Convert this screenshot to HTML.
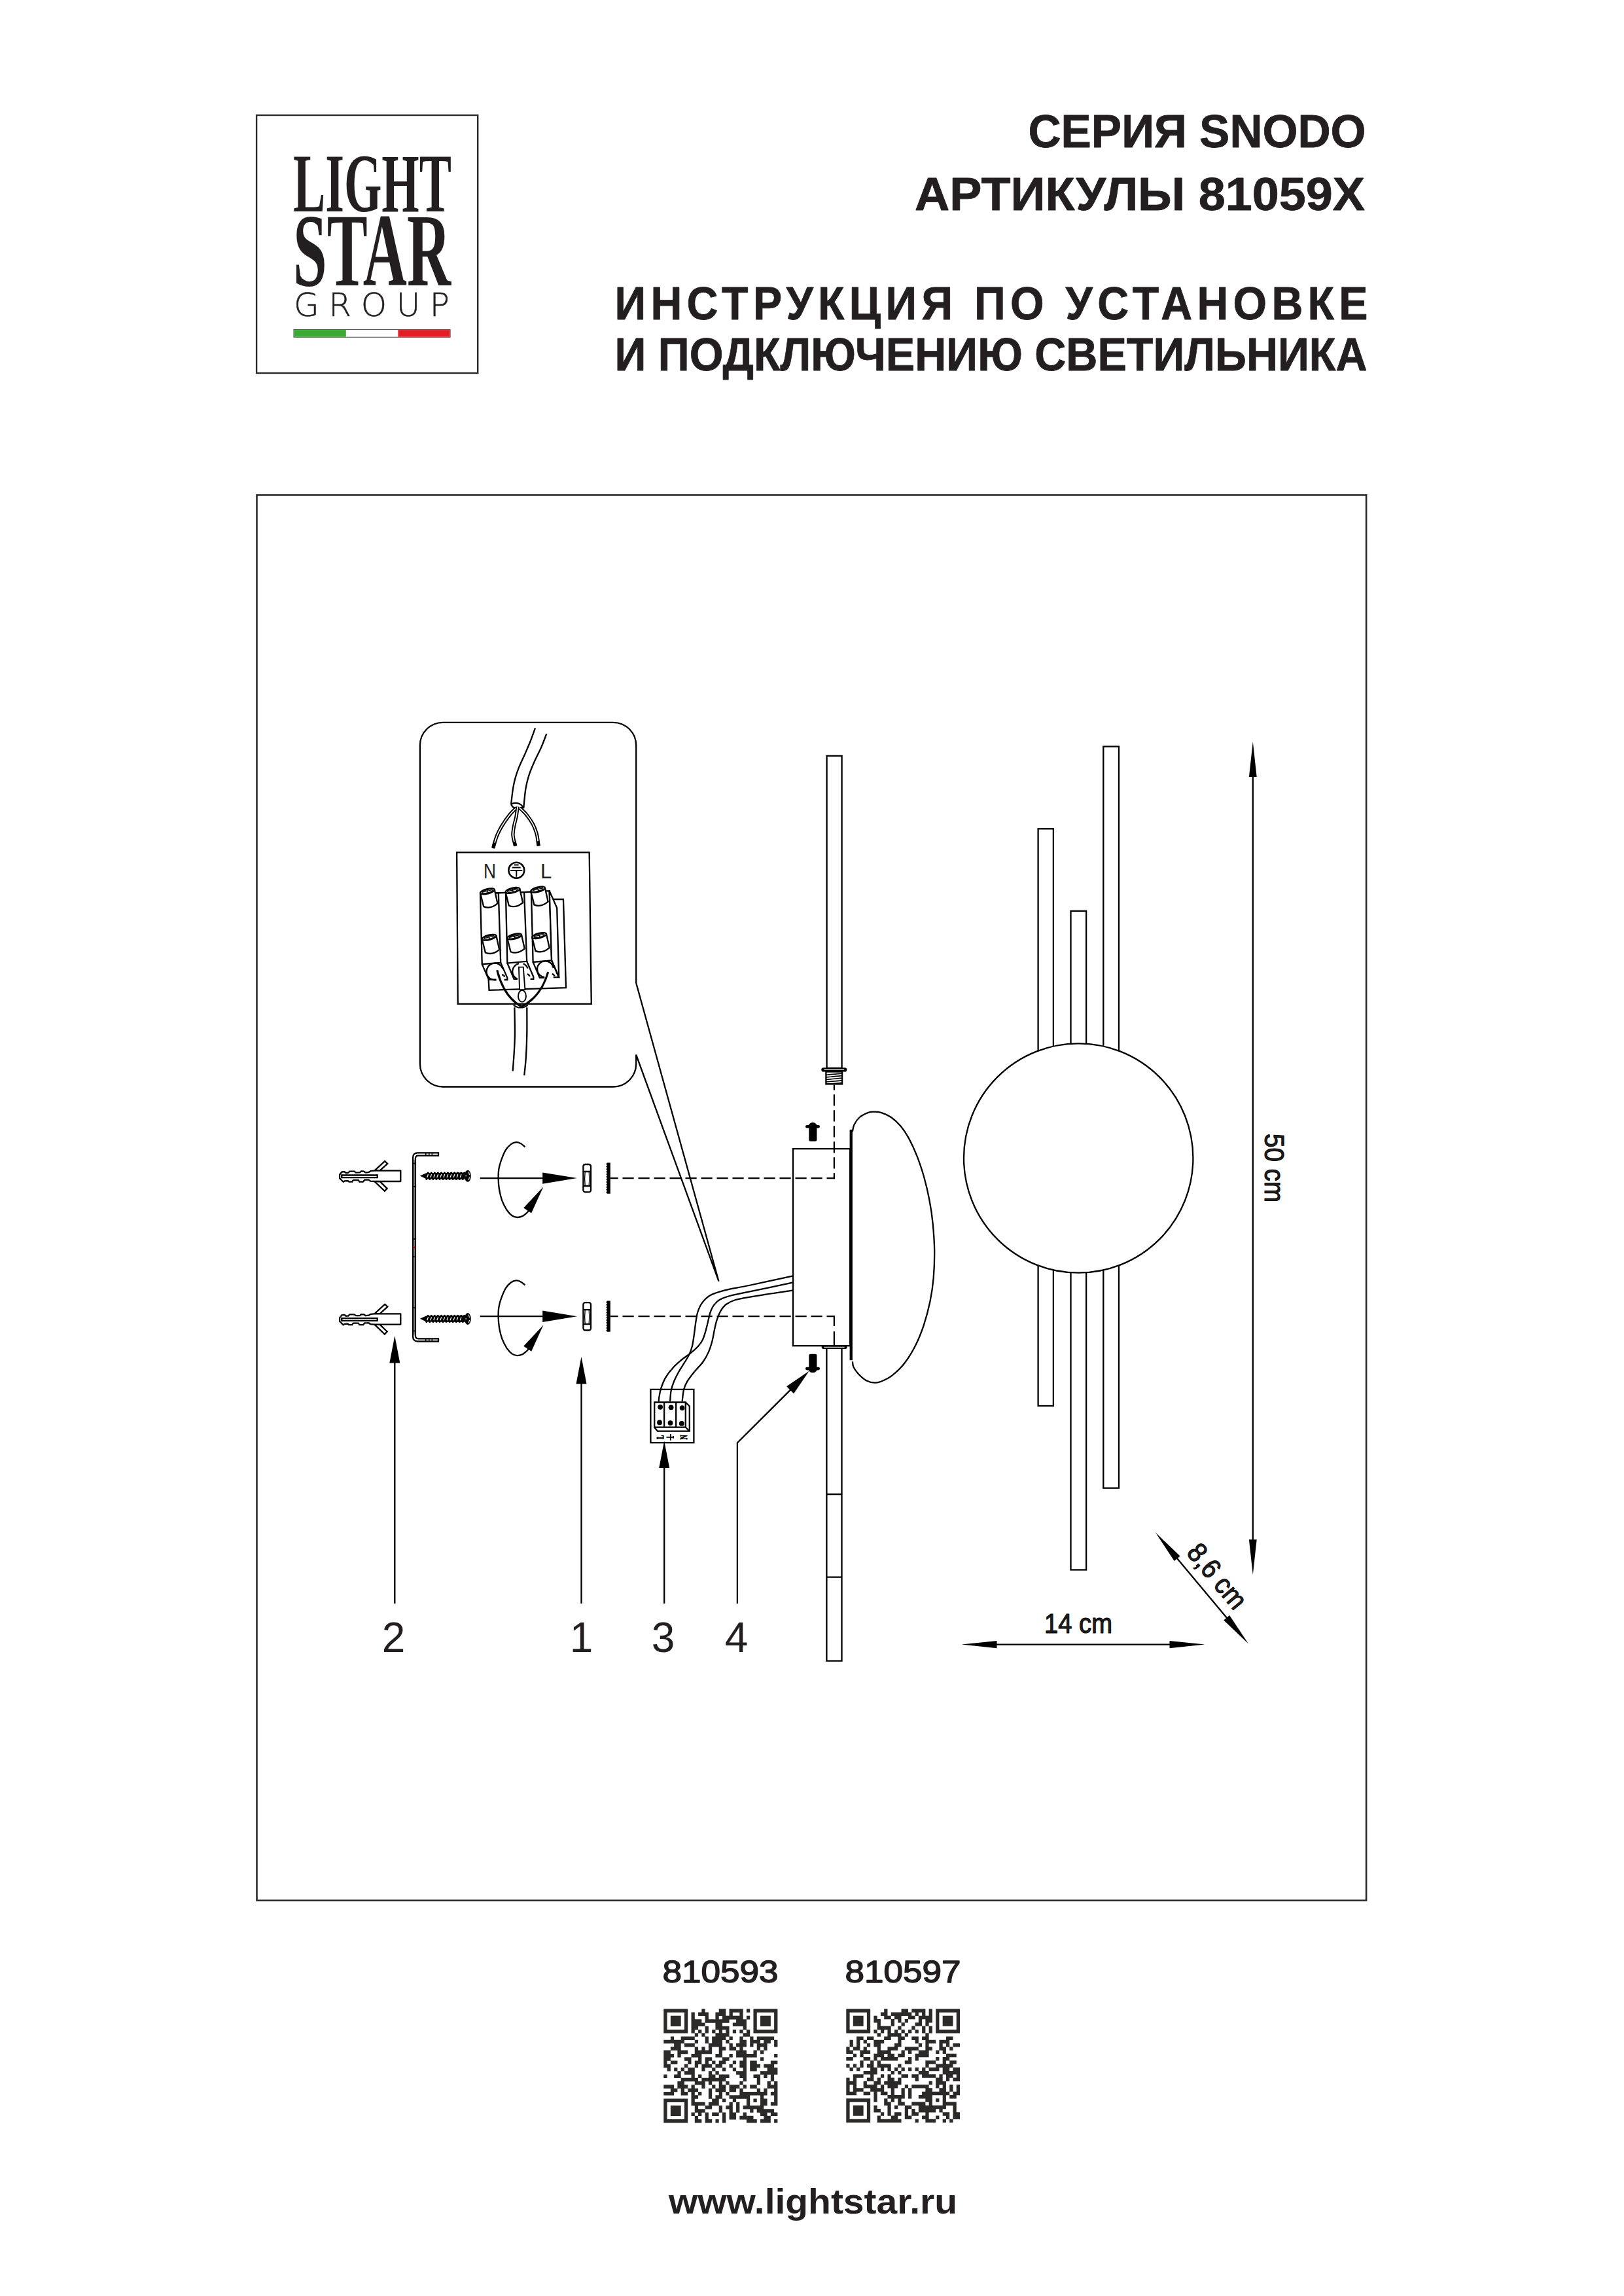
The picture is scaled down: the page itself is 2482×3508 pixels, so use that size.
<!DOCTYPE html>
<html lang="ru"><head><meta charset="utf-8"><title>Lightstar SNODO 81059X</title>
<style>
html,body{margin:0;padding:0;background:#fff}
svg{display:block}
text{font-family:"Liberation Sans",sans-serif;fill:#231f20}
.l{fill:none;stroke:#000;stroke-width:2.3}
.lw{fill:#fff;stroke:#000;stroke-width:2.3}
.k{fill:#000;stroke:none}
.hd{font-weight:bold;fill:#231f20;stroke:#231f20;stroke-width:.8px;stroke-linejoin:round}
.serif{font-family:"Liberation Serif",serif;font-weight:bold;fill:#231f20}
</style></head><body>
<svg width="2482" height="3508" viewBox="0 0 2482 3508">
<rect width="2482" height="3508" fill="#fff"/>
<rect x="392.5" y="756.4" width="1695.6" height="2147.3" fill="none" stroke="#2b2b2b" stroke-width="2.6"/>
<g id="logo">
<rect x="392.1" y="176" width="338.1" height="394" fill="none" stroke="#2b2b2b" stroke-width="2.4"/>
<text class="serif" x="448" y="323.4" font-size="127" textLength="242" lengthAdjust="spacingAndGlyphs">LIGHT</text>
<text class="serif" x="448" y="435.5" font-size="158" textLength="241" lengthAdjust="spacingAndGlyphs">STAR</text>
<text x="449" y="482.9" font-size="50" style="font-family:'DejaVu Sans Light','DejaVu Sans','Liberation Sans',sans-serif;font-weight:200" stroke="#231f20" stroke-width="0.5" textLength="238" lengthAdjust="spacing">GROUP</text>
<rect x="449" y="503.6" width="239.1" height="11.6" fill="#fff" stroke="#444" stroke-width="1"/>
<rect x="449.5" y="504.1" width="79.3" height="10.6" fill="#3aaa35"/>
<rect x="608.4" y="504.1" width="79.2" height="10.6" fill="#e31e24"/>
</g>
<g id="header">
<text class="hd" x="2087.5" y="224.5" font-size="70" text-anchor="end" textLength="516" lengthAdjust="spacingAndGlyphs">СЕРИЯ SNODO</text>
<text class="hd" x="2086" y="320.7" font-size="70" text-anchor="end" textLength="688" lengthAdjust="spacingAndGlyphs">АРТИКУЛЫ 81059X</text>
<text class="hd" transform="translate(939.5,488.4) scale(0.947,1)" font-size="70" textLength="1215.5" lengthAdjust="spacing">ИНСТРУКЦИЯ ПО УСТАНОВКЕ</text>
<text class="hd" x="939.5" y="566.3" font-size="70" textLength="1150" lengthAdjust="spacingAndGlyphs">И ПОДКЛЮЧЕНИЮ СВЕТИЛЬНИКА</text>
</g>
<g id="footer">
<text x="1012.5" y="3028.6" font-size="48.5" stroke="#231f20" stroke-width="1.5" stroke-linejoin="round" textLength="177" lengthAdjust="spacingAndGlyphs">810593</text>
<text x="1291.5" y="3028.6" font-size="48.5" stroke="#231f20" stroke-width="1.5" stroke-linejoin="round" textLength="177" lengthAdjust="spacingAndGlyphs">810597</text>
<text x="1022" y="3382.1" font-size="53" font-weight="bold" textLength="441" lengthAdjust="spacingAndGlyphs">www.lightstar.ru</text>
</g>
<g id="qr" fill="#2b2a29">
<path d="M1014.3 3069.3h36.93v5.53h-36.93zM1072.33 3069.3h5.28v5.53h-5.28zM1098.71 3069.3h10.55v5.53h-10.55zM1114.54 3069.3h21.1v5.53h-21.1zM1140.92 3069.3h5.28v5.53h-5.28zM1151.47 3069.3h36.93v5.53h-36.93zM1014.3 3074.58h5.28v5.53h-5.28zM1045.95 3074.58h5.28v5.53h-5.28zM1056.51 3074.58h5.28v5.53h-5.28zM1067.06 3074.58h15.83v5.53h-15.83zM1093.44 3074.58h15.83v5.53h-15.83zM1114.54 3074.58h5.28v5.53h-5.28zM1130.37 3074.58h5.28v5.53h-5.28zM1151.47 3074.58h5.28v5.53h-5.28zM1183.12 3074.58h5.28v5.53h-5.28zM1014.3 3079.85h5.28v5.53h-5.28zM1024.85 3079.85h15.83v5.53h-15.83zM1045.95 3079.85h5.28v5.53h-5.28zM1056.51 3079.85h5.28v5.53h-5.28zM1077.61 3079.85h5.28v5.53h-5.28zM1093.44 3079.85h5.28v5.53h-5.28zM1103.99 3079.85h31.65v5.53h-31.65zM1140.92 3079.85h5.28v5.53h-5.28zM1151.47 3079.85h5.28v5.53h-5.28zM1162.02 3079.85h15.83v5.53h-15.83zM1183.12 3079.85h5.28v5.53h-5.28zM1014.3 3085.13h5.28v5.53h-5.28zM1024.85 3085.13h15.83v5.53h-15.83zM1045.95 3085.13h5.28v5.53h-5.28zM1056.51 3085.13h15.83v5.53h-15.83zM1077.61 3085.13h36.93v5.53h-36.93zM1125.09 3085.13h15.83v5.53h-15.83zM1151.47 3085.13h5.28v5.53h-5.28zM1162.02 3085.13h15.83v5.53h-15.83zM1183.12 3085.13h5.28v5.53h-5.28zM1014.3 3090.4h5.28v5.53h-5.28zM1024.85 3090.4h15.83v5.53h-15.83zM1045.95 3090.4h5.28v5.53h-5.28zM1056.51 3090.4h21.1v5.53h-21.1zM1093.44 3090.4h10.55v5.53h-10.55zM1119.82 3090.4h21.1v5.53h-21.1zM1151.47 3090.4h5.28v5.53h-5.28zM1162.02 3090.4h15.83v5.53h-15.83zM1183.12 3090.4h5.28v5.53h-5.28zM1014.3 3095.68h5.28v5.53h-5.28zM1045.95 3095.68h5.28v5.53h-5.28zM1056.51 3095.68h10.55v5.53h-10.55zM1077.61 3095.68h5.28v5.53h-5.28zM1093.44 3095.68h21.1v5.53h-21.1zM1135.64 3095.68h5.28v5.53h-5.28zM1151.47 3095.68h5.28v5.53h-5.28zM1183.12 3095.68h5.28v5.53h-5.28zM1014.3 3100.95h36.93v5.53h-36.93zM1056.51 3100.95h5.28v5.53h-5.28zM1067.06 3100.95h5.28v5.53h-5.28zM1077.61 3100.95h5.28v5.53h-5.28zM1088.16 3100.95h5.28v5.53h-5.28zM1098.71 3100.95h5.28v5.53h-5.28zM1109.26 3100.95h5.28v5.53h-5.28zM1119.82 3100.95h5.28v5.53h-5.28zM1130.37 3100.95h5.28v5.53h-5.28zM1140.92 3100.95h5.28v5.53h-5.28zM1151.47 3100.95h36.93v5.53h-36.93zM1061.78 3106.23h5.28v5.53h-5.28zM1072.33 3106.23h5.28v5.53h-5.28zM1093.44 3106.23h21.1v5.53h-21.1zM1135.64 3106.23h10.55v5.53h-10.55zM1024.85 3111.51h5.28v5.53h-5.28zM1040.68 3111.51h21.1v5.53h-21.1zM1077.61 3111.51h5.28v5.53h-5.28zM1088.16 3111.51h21.1v5.53h-21.1zM1114.54 3111.51h5.28v5.53h-5.28zM1130.37 3111.51h5.28v5.53h-5.28zM1146.19 3111.51h5.28v5.53h-5.28zM1156.75 3111.51h26.38v5.53h-26.38zM1014.3 3116.78h31.65v5.53h-31.65zM1061.78 3116.78h5.28v5.53h-5.28zM1077.61 3116.78h5.28v5.53h-5.28zM1088.16 3116.78h15.83v5.53h-15.83zM1109.26 3116.78h5.28v5.53h-5.28zM1130.37 3116.78h10.55v5.53h-10.55zM1146.19 3116.78h15.83v5.53h-15.83zM1167.3 3116.78h10.55v5.53h-10.55zM1183.12 3116.78h5.28v5.53h-5.28zM1030.13 3122.06h10.55v5.53h-10.55zM1045.95 3122.06h15.83v5.53h-15.83zM1082.88 3122.06h21.1v5.53h-21.1zM1114.54 3122.06h5.28v5.53h-5.28zM1125.09 3122.06h15.83v5.53h-15.83zM1146.19 3122.06h5.28v5.53h-5.28zM1156.75 3122.06h15.83v5.53h-15.83zM1183.12 3122.06h5.28v5.53h-5.28zM1024.85 3127.33h15.83v5.53h-15.83zM1061.78 3127.33h5.28v5.53h-5.28zM1072.33 3127.33h5.28v5.53h-5.28zM1082.88 3127.33h5.28v5.53h-5.28zM1098.71 3127.33h10.55v5.53h-10.55zM1114.54 3127.33h10.55v5.53h-10.55zM1130.37 3127.33h5.28v5.53h-5.28zM1156.75 3127.33h5.28v5.53h-5.28zM1167.3 3127.33h5.28v5.53h-5.28zM1014.3 3132.61h10.55v5.53h-10.55zM1035.4 3132.61h15.83v5.53h-15.83zM1061.78 3132.61h26.38v5.53h-26.38zM1098.71 3132.61h5.28v5.53h-5.28zM1125.09 3132.61h15.83v5.53h-15.83zM1151.47 3132.61h5.28v5.53h-5.28zM1162.02 3132.61h5.28v5.53h-5.28zM1014.3 3137.88h15.83v5.53h-15.83zM1035.4 3137.88h5.28v5.53h-5.28zM1056.51 3137.88h15.83v5.53h-15.83zM1093.44 3137.88h10.55v5.53h-10.55zM1114.54 3137.88h5.28v5.53h-5.28zM1125.09 3137.88h31.65v5.53h-31.65zM1183.12 3137.88h5.28v5.53h-5.28zM1014.3 3143.16h10.55v5.53h-10.55zM1045.95 3143.16h10.55v5.53h-10.55zM1067.06 3143.16h5.28v5.53h-5.28zM1077.61 3143.16h10.55v5.53h-10.55zM1103.99 3143.16h10.55v5.53h-10.55zM1135.64 3143.16h5.28v5.53h-5.28zM1162.02 3143.16h5.28v5.53h-5.28zM1014.3 3148.44h5.28v5.53h-5.28zM1024.85 3148.44h10.55v5.53h-10.55zM1051.23 3148.44h5.28v5.53h-5.28zM1061.78 3148.44h10.55v5.53h-10.55zM1077.61 3148.44h5.28v5.53h-5.28zM1088.16 3148.44h5.28v5.53h-5.28zM1098.71 3148.44h10.55v5.53h-10.55zM1119.82 3148.44h5.28v5.53h-5.28zM1130.37 3148.44h10.55v5.53h-10.55zM1146.19 3148.44h10.55v5.53h-10.55zM1177.85 3148.44h10.55v5.53h-10.55zM1014.3 3153.71h10.55v5.53h-10.55zM1045.95 3153.71h5.28v5.53h-5.28zM1061.78 3153.71h5.28v5.53h-5.28zM1072.33 3153.71h15.83v5.53h-15.83zM1093.44 3153.71h10.55v5.53h-10.55zM1114.54 3153.71h5.28v5.53h-5.28zM1130.37 3153.71h10.55v5.53h-10.55zM1146.19 3153.71h15.83v5.53h-15.83zM1167.3 3153.71h15.83v5.53h-15.83zM1019.58 3158.99h5.28v5.53h-5.28zM1030.13 3158.99h5.28v5.53h-5.28zM1040.68 3158.99h5.28v5.53h-5.28zM1051.23 3158.99h10.55v5.53h-10.55zM1072.33 3158.99h5.28v5.53h-5.28zM1088.16 3158.99h5.28v5.53h-5.28zM1103.99 3158.99h5.28v5.53h-5.28zM1119.82 3158.99h5.28v5.53h-5.28zM1135.64 3158.99h5.28v5.53h-5.28zM1146.19 3158.99h10.55v5.53h-10.55zM1172.57 3158.99h15.83v5.53h-15.83zM1035.4 3164.26h5.28v5.53h-5.28zM1045.95 3164.26h15.83v5.53h-15.83zM1082.88 3164.26h5.28v5.53h-5.28zM1093.44 3164.26h5.28v5.53h-5.28zM1125.09 3164.26h15.83v5.53h-15.83zM1162.02 3164.26h26.38v5.53h-26.38zM1014.3 3169.54h5.28v5.53h-5.28zM1030.13 3169.54h10.55v5.53h-10.55zM1056.51 3169.54h5.28v5.53h-5.28zM1067.06 3169.54h5.28v5.53h-5.28zM1082.88 3169.54h10.55v5.53h-10.55zM1098.71 3169.54h15.83v5.53h-15.83zM1130.37 3169.54h10.55v5.53h-10.55zM1151.47 3169.54h10.55v5.53h-10.55zM1167.3 3169.54h5.28v5.53h-5.28zM1177.85 3169.54h5.28v5.53h-5.28zM1040.68 3174.82h26.38v5.53h-26.38zM1072.33 3174.82h36.93v5.53h-36.93zM1135.64 3174.82h5.28v5.53h-5.28zM1156.75 3174.82h5.28v5.53h-5.28zM1177.85 3174.82h5.28v5.53h-5.28zM1035.4 3180.09h10.55v5.53h-10.55zM1061.78 3180.09h15.83v5.53h-15.83zM1082.88 3180.09h5.28v5.53h-5.28zM1098.71 3180.09h5.28v5.53h-5.28zM1109.26 3180.09h5.28v5.53h-5.28zM1130.37 3180.09h5.28v5.53h-5.28zM1156.75 3180.09h5.28v5.53h-5.28zM1172.57 3180.09h5.28v5.53h-5.28zM1183.12 3180.09h5.28v5.53h-5.28zM1014.3 3185.37h15.83v5.53h-15.83zM1035.4 3185.37h15.83v5.53h-15.83zM1056.51 3185.37h5.28v5.53h-5.28zM1072.33 3185.37h5.28v5.53h-5.28zM1088.16 3185.37h5.28v5.53h-5.28zM1098.71 3185.37h10.55v5.53h-10.55zM1114.54 3185.37h15.83v5.53h-15.83zM1135.64 3185.37h5.28v5.53h-5.28zM1146.19 3185.37h10.55v5.53h-10.55zM1172.57 3185.37h15.83v5.53h-15.83zM1024.85 3190.64h10.55v5.53h-10.55zM1040.68 3190.64h5.28v5.53h-5.28zM1051.23 3190.64h15.83v5.53h-15.83zM1082.88 3190.64h5.28v5.53h-5.28zM1093.44 3190.64h15.83v5.53h-15.83zM1114.54 3190.64h10.55v5.53h-10.55zM1130.37 3190.64h5.28v5.53h-5.28zM1156.75 3190.64h5.28v5.53h-5.28zM1167.3 3190.64h5.28v5.53h-5.28zM1183.12 3190.64h5.28v5.53h-5.28zM1014.3 3195.92h15.83v5.53h-15.83zM1040.68 3195.92h10.55v5.53h-10.55zM1056.51 3195.92h5.28v5.53h-5.28zM1067.06 3195.92h5.28v5.53h-5.28zM1082.88 3195.92h5.28v5.53h-5.28zM1098.71 3195.92h5.28v5.53h-5.28zM1109.26 3195.92h5.28v5.53h-5.28zM1130.37 3195.92h42.21v5.53h-42.21zM1177.85 3195.92h10.55v5.53h-10.55zM1056.51 3201.19h10.55v5.53h-10.55zM1082.88 3201.19h5.28v5.53h-5.28zM1093.44 3201.19h10.55v5.53h-10.55zM1114.54 3201.19h31.65v5.53h-31.65zM1162.02 3201.19h5.28v5.53h-5.28zM1183.12 3201.19h5.28v5.53h-5.28zM1014.3 3206.47h36.93v5.53h-36.93zM1056.51 3206.47h5.28v5.53h-5.28zM1088.16 3206.47h10.55v5.53h-10.55zM1103.99 3206.47h5.28v5.53h-5.28zM1119.82 3206.47h5.28v5.53h-5.28zM1140.92 3206.47h5.28v5.53h-5.28zM1151.47 3206.47h5.28v5.53h-5.28zM1162.02 3206.47h10.55v5.53h-10.55zM1183.12 3206.47h5.28v5.53h-5.28zM1014.3 3211.75h5.28v5.53h-5.28zM1045.95 3211.75h5.28v5.53h-5.28zM1056.51 3211.75h21.1v5.53h-21.1zM1082.88 3211.75h15.83v5.53h-15.83zM1114.54 3211.75h5.28v5.53h-5.28zM1125.09 3211.75h5.28v5.53h-5.28zM1140.92 3211.75h5.28v5.53h-5.28zM1162.02 3211.75h10.55v5.53h-10.55zM1177.85 3211.75h10.55v5.53h-10.55zM1014.3 3217.02h5.28v5.53h-5.28zM1024.85 3217.02h15.83v5.53h-15.83zM1045.95 3217.02h5.28v5.53h-5.28zM1061.78 3217.02h5.28v5.53h-5.28zM1077.61 3217.02h10.55v5.53h-10.55zM1098.71 3217.02h5.28v5.53h-5.28zM1109.26 3217.02h10.55v5.53h-10.55zM1125.09 3217.02h5.28v5.53h-5.28zM1135.64 3217.02h31.65v5.53h-31.65zM1014.3 3222.3h5.28v5.53h-5.28zM1024.85 3222.3h15.83v5.53h-15.83zM1045.95 3222.3h5.28v5.53h-5.28zM1061.78 3222.3h15.83v5.53h-15.83zM1098.71 3222.3h5.28v5.53h-5.28zM1114.54 3222.3h5.28v5.53h-5.28zM1125.09 3222.3h5.28v5.53h-5.28zM1146.19 3222.3h5.28v5.53h-5.28zM1156.75 3222.3h26.38v5.53h-26.38zM1014.3 3227.57h5.28v5.53h-5.28zM1024.85 3227.57h15.83v5.53h-15.83zM1045.95 3227.57h5.28v5.53h-5.28zM1056.51 3227.57h5.28v5.53h-5.28zM1067.06 3227.57h5.28v5.53h-5.28zM1077.61 3227.57h5.28v5.53h-5.28zM1088.16 3227.57h10.55v5.53h-10.55zM1103.99 3227.57h5.28v5.53h-5.28zM1114.54 3227.57h10.55v5.53h-10.55zM1135.64 3227.57h5.28v5.53h-5.28zM1162.02 3227.57h10.55v5.53h-10.55zM1177.85 3227.57h10.55v5.53h-10.55zM1014.3 3232.85h5.28v5.53h-5.28zM1045.95 3232.85h5.28v5.53h-5.28zM1061.78 3232.85h5.28v5.53h-5.28zM1077.61 3232.85h5.28v5.53h-5.28zM1103.99 3232.85h5.28v5.53h-5.28zM1114.54 3232.85h10.55v5.53h-10.55zM1130.37 3232.85h21.1v5.53h-21.1zM1167.3 3232.85h10.55v5.53h-10.55zM1014.3 3238.12h36.93v5.28h-36.93zM1061.78 3238.12h10.55v5.28h-10.55zM1077.61 3238.12h10.55v5.28h-10.55zM1093.44 3238.12h5.28v5.28h-5.28zM1103.99 3238.12h5.28v5.28h-5.28zM1140.92 3238.12h15.83v5.28h-15.83zM1162.02 3238.12h15.83v5.28h-15.83zM1183.12 3238.12h5.28v5.28h-5.28z"/>
<path d="M1293.3 3069.3h36.85v5.51h-36.85zM1351.2 3069.3h5.26v5.51h-5.26zM1377.52 3069.3h10.53v5.51h-10.53zM1393.31 3069.3h21.05v5.51h-21.05zM1419.63 3069.3h5.26v5.51h-5.26zM1430.15 3069.3h36.85v5.51h-36.85zM1293.3 3074.56h5.26v5.51h-5.26zM1324.88 3074.56h5.26v5.51h-5.26zM1345.94 3074.56h10.53v5.51h-10.53zM1361.73 3074.56h31.58v5.51h-31.58zM1398.57 3074.56h5.26v5.51h-5.26zM1409.1 3074.56h5.26v5.51h-5.26zM1419.63 3074.56h5.26v5.51h-5.26zM1430.15 3074.56h5.26v5.51h-5.26zM1461.74 3074.56h5.26v5.51h-5.26zM1293.3 3079.83h5.26v5.51h-5.26zM1303.83 3079.83h15.79v5.51h-15.79zM1324.88 3079.83h5.26v5.51h-5.26zM1335.41 3079.83h5.26v5.51h-5.26zM1351.2 3079.83h10.53v5.51h-10.53zM1366.99 3079.83h10.53v5.51h-10.53zM1388.05 3079.83h10.53v5.51h-10.53zM1403.84 3079.83h21.05v5.51h-21.05zM1430.15 3079.83h5.26v5.51h-5.26zM1440.68 3079.83h15.79v5.51h-15.79zM1461.74 3079.83h5.26v5.51h-5.26zM1293.3 3085.09h5.26v5.51h-5.26zM1303.83 3085.09h15.79v5.51h-15.79zM1324.88 3085.09h5.26v5.51h-5.26zM1335.41 3085.09h10.53v5.51h-10.53zM1361.73 3085.09h5.26v5.51h-5.26zM1372.25 3085.09h5.26v5.51h-5.26zM1382.78 3085.09h5.26v5.51h-5.26zM1403.84 3085.09h5.26v5.51h-5.26zM1414.36 3085.09h10.53v5.51h-10.53zM1430.15 3085.09h5.26v5.51h-5.26zM1440.68 3085.09h15.79v5.51h-15.79zM1461.74 3085.09h5.26v5.51h-5.26zM1293.3 3090.35h5.26v5.51h-5.26zM1303.83 3090.35h15.79v5.51h-15.79zM1324.88 3090.35h5.26v5.51h-5.26zM1340.67 3090.35h5.26v5.51h-5.26zM1361.73 3090.35h5.26v5.51h-5.26zM1377.52 3090.35h5.26v5.51h-5.26zM1398.57 3090.35h10.53v5.51h-10.53zM1414.36 3090.35h5.26v5.51h-5.26zM1430.15 3090.35h5.26v5.51h-5.26zM1440.68 3090.35h15.79v5.51h-15.79zM1461.74 3090.35h5.26v5.51h-5.26zM1293.3 3095.62h5.26v5.51h-5.26zM1324.88 3095.62h5.26v5.51h-5.26zM1340.67 3095.62h21.05v5.51h-21.05zM1372.25 3095.62h5.26v5.51h-5.26zM1393.31 3095.62h5.26v5.51h-5.26zM1409.1 3095.62h5.26v5.51h-5.26zM1419.63 3095.62h5.26v5.51h-5.26zM1430.15 3095.62h5.26v5.51h-5.26zM1461.74 3095.62h5.26v5.51h-5.26zM1293.3 3100.88h36.85v5.51h-36.85zM1335.41 3100.88h5.26v5.51h-5.26zM1345.94 3100.88h5.26v5.51h-5.26zM1356.46 3100.88h5.26v5.51h-5.26zM1366.99 3100.88h5.26v5.51h-5.26zM1377.52 3100.88h5.26v5.51h-5.26zM1388.05 3100.88h5.26v5.51h-5.26zM1398.57 3100.88h5.26v5.51h-5.26zM1409.1 3100.88h5.26v5.51h-5.26zM1419.63 3100.88h5.26v5.51h-5.26zM1430.15 3100.88h36.85v5.51h-36.85zM1340.67 3106.15h5.26v5.51h-5.26zM1356.46 3106.15h21.05v5.51h-21.05zM1382.78 3106.15h5.26v5.51h-5.26zM1414.36 3106.15h5.26v5.51h-5.26zM1309.09 3111.41h10.53v5.51h-10.53zM1324.88 3111.41h10.53v5.51h-10.53zM1351.2 3111.41h10.53v5.51h-10.53zM1372.25 3111.41h10.53v5.51h-10.53zM1393.31 3111.41h10.53v5.51h-10.53zM1409.1 3111.41h10.53v5.51h-10.53zM1445.95 3111.41h10.53v5.51h-10.53zM1298.56 3116.67h5.26v5.51h-5.26zM1309.09 3116.67h5.26v5.51h-5.26zM1319.62 3116.67h5.26v5.51h-5.26zM1335.41 3116.67h15.79v5.51h-15.79zM1372.25 3116.67h5.26v5.51h-5.26zM1398.57 3116.67h5.26v5.51h-5.26zM1414.36 3116.67h15.79v5.51h-15.79zM1435.42 3116.67h15.79v5.51h-15.79zM1298.56 3121.94h5.26v5.51h-5.26zM1309.09 3121.94h5.26v5.51h-5.26zM1324.88 3121.94h5.26v5.51h-5.26zM1335.41 3121.94h10.53v5.51h-10.53zM1366.99 3121.94h10.53v5.51h-10.53zM1403.84 3121.94h5.26v5.51h-5.26zM1414.36 3121.94h5.26v5.51h-5.26zM1435.42 3121.94h5.26v5.51h-5.26zM1445.95 3121.94h5.26v5.51h-5.26zM1456.47 3121.94h10.53v5.51h-10.53zM1293.3 3127.2h5.26v5.51h-5.26zM1303.83 3127.2h10.53v5.51h-10.53zM1319.62 3127.2h5.26v5.51h-5.26zM1340.67 3127.2h5.26v5.51h-5.26zM1356.46 3127.2h15.79v5.51h-15.79zM1382.78 3127.2h21.05v5.51h-21.05zM1414.36 3127.2h10.53v5.51h-10.53zM1435.42 3127.2h10.53v5.51h-10.53zM1451.21 3127.2h5.26v5.51h-5.26zM1293.3 3132.46h10.53v5.51h-10.53zM1314.35 3132.46h15.79v5.51h-15.79zM1340.67 3132.46h21.05v5.51h-21.05zM1377.52 3132.46h5.26v5.51h-5.26zM1388.05 3132.46h5.26v5.51h-5.26zM1403.84 3132.46h15.79v5.51h-15.79zM1430.15 3132.46h5.26v5.51h-5.26zM1440.68 3132.46h5.26v5.51h-5.26zM1303.83 3137.73h5.26v5.51h-5.26zM1314.35 3137.73h5.26v5.51h-5.26zM1335.41 3137.73h15.79v5.51h-15.79zM1356.46 3137.73h10.53v5.51h-10.53zM1372.25 3137.73h10.53v5.51h-10.53zM1398.57 3137.73h21.05v5.51h-21.05zM1445.95 3137.73h15.79v5.51h-15.79zM1293.3 3142.99h10.53v5.51h-10.53zM1319.62 3142.99h10.53v5.51h-10.53zM1335.41 3142.99h5.26v5.51h-5.26zM1345.94 3142.99h26.32v5.51h-26.32zM1388.05 3142.99h5.26v5.51h-5.26zM1398.57 3142.99h5.26v5.51h-5.26zM1430.15 3142.99h5.26v5.51h-5.26zM1440.68 3142.99h10.53v5.51h-10.53zM1314.35 3148.25h5.26v5.51h-5.26zM1330.15 3148.25h5.26v5.51h-5.26zM1340.67 3148.25h5.26v5.51h-5.26zM1382.78 3148.25h10.53v5.51h-10.53zM1414.36 3148.25h15.79v5.51h-15.79zM1440.68 3148.25h5.26v5.51h-5.26zM1451.21 3148.25h10.53v5.51h-10.53zM1293.3 3153.52h5.26v5.51h-5.26zM1303.83 3153.52h5.26v5.51h-5.26zM1314.35 3153.52h5.26v5.51h-5.26zM1324.88 3153.52h10.53v5.51h-10.53zM1340.67 3153.52h21.05v5.51h-21.05zM1372.25 3153.52h5.26v5.51h-5.26zM1414.36 3153.52h5.26v5.51h-5.26zM1430.15 3153.52h26.32v5.51h-26.32zM1298.56 3158.78h5.26v5.51h-5.26zM1309.09 3158.78h5.26v5.51h-5.26zM1330.15 3158.78h10.53v5.51h-10.53zM1345.94 3158.78h5.26v5.51h-5.26zM1356.46 3158.78h5.26v5.51h-5.26zM1366.99 3158.78h5.26v5.51h-5.26zM1377.52 3158.78h5.26v5.51h-5.26zM1388.05 3158.78h5.26v5.51h-5.26zM1398.57 3158.78h5.26v5.51h-5.26zM1409.1 3158.78h5.26v5.51h-5.26zM1419.63 3158.78h15.79v5.51h-15.79zM1440.68 3158.78h10.53v5.51h-10.53zM1456.47 3158.78h10.53v5.51h-10.53zM1319.62 3164.05h21.05v5.51h-21.05zM1361.73 3164.05h5.26v5.51h-5.26zM1372.25 3164.05h5.26v5.51h-5.26zM1403.84 3164.05h15.79v5.51h-15.79zM1440.68 3164.05h26.32v5.51h-26.32zM1303.83 3169.31h15.79v5.51h-15.79zM1330.15 3169.31h5.26v5.51h-5.26zM1345.94 3169.31h5.26v5.51h-5.26zM1356.46 3169.31h5.26v5.51h-5.26zM1377.52 3169.31h10.53v5.51h-10.53zM1393.31 3169.31h10.53v5.51h-10.53zM1409.1 3169.31h21.05v5.51h-21.05zM1435.42 3169.31h5.26v5.51h-5.26zM1445.95 3169.31h10.53v5.51h-10.53zM1461.74 3169.31h5.26v5.51h-5.26zM1293.3 3174.57h5.26v5.51h-5.26zM1303.83 3174.57h5.26v5.51h-5.26zM1324.88 3174.57h10.53v5.51h-10.53zM1340.67 3174.57h5.26v5.51h-5.26zM1356.46 3174.57h10.53v5.51h-10.53zM1372.25 3174.57h5.26v5.51h-5.26zM1398.57 3174.57h5.26v5.51h-5.26zM1430.15 3174.57h10.53v5.51h-10.53zM1445.95 3174.57h5.26v5.51h-5.26zM1456.47 3174.57h10.53v5.51h-10.53zM1293.3 3179.84h15.79v5.51h-15.79zM1319.62 3179.84h5.26v5.51h-5.26zM1335.41 3179.84h10.53v5.51h-10.53zM1351.2 3179.84h26.32v5.51h-26.32zM1419.63 3179.84h5.26v5.51h-5.26zM1430.15 3179.84h15.79v5.51h-15.79zM1293.3 3185.1h5.26v5.51h-5.26zM1303.83 3185.1h5.26v5.51h-5.26zM1319.62 3185.1h21.05v5.51h-21.05zM1345.94 3185.1h5.26v5.51h-5.26zM1356.46 3185.1h15.79v5.51h-15.79zM1382.78 3185.1h5.26v5.51h-5.26zM1393.31 3185.1h26.32v5.51h-26.32zM1430.15 3185.1h5.26v5.51h-5.26zM1440.68 3185.1h5.26v5.51h-5.26zM1451.21 3185.1h5.26v5.51h-5.26zM1461.74 3185.1h5.26v5.51h-5.26zM1293.3 3190.36h5.26v5.51h-5.26zM1303.83 3190.36h15.79v5.51h-15.79zM1330.15 3190.36h21.05v5.51h-21.05zM1361.73 3190.36h5.26v5.51h-5.26zM1377.52 3190.36h5.26v5.51h-5.26zM1388.05 3190.36h5.26v5.51h-5.26zM1414.36 3190.36h10.53v5.51h-10.53zM1435.42 3190.36h10.53v5.51h-10.53zM1451.21 3190.36h5.26v5.51h-5.26zM1461.74 3190.36h5.26v5.51h-5.26zM1293.3 3195.63h15.79v5.51h-15.79zM1319.62 3195.63h10.53v5.51h-10.53zM1335.41 3195.63h5.26v5.51h-5.26zM1345.94 3195.63h10.53v5.51h-10.53zM1361.73 3195.63h5.26v5.51h-5.26zM1377.52 3195.63h5.26v5.51h-5.26zM1388.05 3195.63h5.26v5.51h-5.26zM1409.1 3195.63h42.11v5.51h-42.11zM1456.47 3195.63h10.53v5.51h-10.53zM1335.41 3200.89h5.26v5.51h-5.26zM1356.46 3200.89h26.32v5.51h-26.32zM1388.05 3200.89h5.26v5.51h-5.26zM1403.84 3200.89h21.05v5.51h-21.05zM1440.68 3200.89h5.26v5.51h-5.26zM1451.21 3200.89h10.53v5.51h-10.53zM1293.3 3206.15h36.85v5.51h-36.85zM1335.41 3206.15h5.26v5.51h-5.26zM1351.2 3206.15h5.26v5.51h-5.26zM1361.73 3206.15h5.26v5.51h-5.26zM1372.25 3206.15h5.26v5.51h-5.26zM1414.36 3206.15h10.53v5.51h-10.53zM1430.15 3206.15h5.26v5.51h-5.26zM1440.68 3206.15h5.26v5.51h-5.26zM1293.3 3211.42h5.26v5.51h-5.26zM1324.88 3211.42h5.26v5.51h-5.26zM1351.2 3211.42h10.53v5.51h-10.53zM1372.25 3211.42h10.53v5.51h-10.53zM1393.31 3211.42h21.05v5.51h-21.05zM1419.63 3211.42h5.26v5.51h-5.26zM1440.68 3211.42h21.05v5.51h-21.05zM1293.3 3216.68h5.26v5.51h-5.26zM1303.83 3216.68h15.79v5.51h-15.79zM1324.88 3216.68h5.26v5.51h-5.26zM1335.41 3216.68h5.26v5.51h-5.26zM1356.46 3216.68h5.26v5.51h-5.26zM1366.99 3216.68h5.26v5.51h-5.26zM1382.78 3216.68h10.53v5.51h-10.53zM1403.84 3216.68h42.11v5.51h-42.11zM1456.47 3216.68h5.26v5.51h-5.26zM1293.3 3221.95h5.26v5.51h-5.26zM1303.83 3221.95h15.79v5.51h-15.79zM1324.88 3221.95h5.26v5.51h-5.26zM1335.41 3221.95h10.53v5.51h-10.53zM1356.46 3221.95h5.26v5.51h-5.26zM1382.78 3221.95h5.26v5.51h-5.26zM1393.31 3221.95h5.26v5.51h-5.26zM1403.84 3221.95h26.32v5.51h-26.32zM1435.42 3221.95h5.26v5.51h-5.26zM1456.47 3221.95h5.26v5.51h-5.26zM1293.3 3227.21h5.26v5.51h-5.26zM1303.83 3227.21h15.79v5.51h-15.79zM1324.88 3227.21h5.26v5.51h-5.26zM1345.94 3227.21h5.26v5.51h-5.26zM1356.46 3227.21h5.26v5.51h-5.26zM1366.99 3227.21h10.53v5.51h-10.53zM1382.78 3227.21h5.26v5.51h-5.26zM1393.31 3227.21h10.53v5.51h-10.53zM1414.36 3227.21h5.26v5.51h-5.26zM1440.68 3227.21h10.53v5.51h-10.53zM1456.47 3227.21h10.53v5.51h-10.53zM1293.3 3232.47h5.26v5.51h-5.26zM1324.88 3232.47h5.26v5.51h-5.26zM1340.67 3232.47h5.26v5.51h-5.26zM1361.73 3232.47h10.53v5.51h-10.53zM1382.78 3232.47h10.53v5.51h-10.53zM1409.1 3232.47h10.53v5.51h-10.53zM1430.15 3232.47h5.26v5.51h-5.26zM1445.95 3232.47h5.26v5.51h-5.26zM1456.47 3232.47h10.53v5.51h-10.53zM1293.3 3237.74h36.85v5.26h-36.85zM1340.67 3237.74h36.85v5.26h-36.85zM1398.57 3237.74h5.26v5.26h-5.26zM1414.36 3237.74h15.79v5.26h-15.79zM1440.68 3237.74h5.26v5.26h-5.26zM1451.21 3237.74h5.26v5.26h-5.26z"/>
</g>
<g id="diagram">
<g id="front-view">
<rect class="lw" x="1586.6" y="1266.3" width="23.3" height="881.7"/>
<rect class="lw" x="1636.5" y="1391.9" width="23.6" height="1006.6"/>
<rect class="lw" x="1686.3" y="1140.6" width="23.7" height="1133"/>
<circle class="lw" cx="1648.2" cy="1769.5" r="175.2"/>
</g>
<g id="dims">
<line class="l" x1="1914.8" y1="1180" x2="1914.8" y2="2360"/>
<g class="k"><polygon points="1914.8,1133.3 1920.7,1186.9 1908.9,1186.9"/><polygon points="1914.8,2405.9 1908.9,2352.3 1920.7,2352.3"/></g>
<line class="l" x1="1515" y1="2512.6" x2="1795" y2="2512.6"/>
<g class="k"><polygon points="1469.5,2512.6 1523.5,2507 1523.5,2518.2"/><polygon points="1841.5,2512.6 1787.5,2518.2 1787.5,2507"/></g>
<line class="l" x1="1794.6" y1="2375.8" x2="1879.2" y2="2477.1"/>
<g class="k"><polygon points="1765.8,2341.3 1803.6,2377.5 1794.7,2384.9"/><polygon points="1908,2511.6 1870.2,2475.4 1879.1,2468"/></g>
<text x="1596" y="2494.9" font-size="42.5" fill="#000" stroke="#000" stroke-width="1.1" stroke-linejoin="round" textLength="104" lengthAdjust="spacingAndGlyphs">14 cm</text>
<text transform="translate(1933,1732) rotate(90)" font-size="42.5" fill="#000" stroke="#000" stroke-width="1.1" stroke-linejoin="round" textLength="105" lengthAdjust="spacingAndGlyphs">50 cm</text>
<text transform="translate(1812,2373) rotate(50.1)" font-size="42.5" fill="#000" stroke="#000" stroke-width="1.1" stroke-linejoin="round" textLength="116" lengthAdjust="spacingAndGlyphs">8,6 cm</text>
</g>
<g id="side-view">
<rect class="lw" x="1263.600" y="1154.900" width="23" height="477"/>
<rect class="k" x="1255.300" y="1631.300" width="39" height="6.200" rx="3.100"/>
<path d="M1259.500 1634.400H1290.200" stroke="#fff" stroke-width="1.1"/>
<rect class="lw" x="1262.400" y="1637.500" width="24.700" height="18.800"/>
<path d="M1262.800 1642.3L1286.800 1640.1M1262.800 1645.8L1286.800 1643.7M1262.800 1649.4L1286.800 1647.2M1262.800 1653L1286.800 1650.8M1262.800 1656.5L1286.800 1654.3" fill="none" stroke="#000" stroke-width="1.7"/>
<path class="lw" d="M1263.4 2060V2537.7H1286.5V2060"/>
<path class="l" d="M1263.4 2283H1286.5M1263.4 2409.6H1286.5"/>
<rect class="lw" x="1212" y="1755.2" width="87.2" height="301"/>
<rect class="k" x="1255.700" y="2055.500" width="38.900" height="5.400" rx="2.700"/>
<path d="M1259.500 2058.300H1290.700" stroke="#fff" stroke-width="1.1"/>
<rect class="k" x="1298.6" y="1725.9" width="4.4" height="352.3"/>
<path class="lw" d="M1302.9 1729C1303.3 1727.2 1303.6 1722.2 1305.4 1718.5C1307.2 1714.9 1310.3 1710.1 1313.8 1707C1317.3 1704 1322.7 1701.5 1326.3 1700.1C1330 1698.7 1332.3 1698.7 1335.8 1698.7C1339.2 1698.7 1342.9 1698.7 1347.2 1700.1C1351.6 1701.5 1357 1703.6 1361.9 1707C1366.8 1710.5 1372 1715.2 1376.5 1720.6C1381 1726 1384.9 1731.8 1389.1 1739.4C1393.2 1747.1 1397.8 1756.9 1401.6 1766.6C1405.4 1776.4 1408.9 1786.8 1412.1 1798C1415.2 1809.1 1418.2 1821.7 1420.4 1833.5C1422.7 1845.4 1424.4 1856.2 1425.6 1869.1C1426.9 1882 1428 1896.9 1428.2 1910.9C1428.3 1924.8 1427.8 1939.8 1426.7 1952.7C1425.6 1965.6 1423.9 1976.4 1421.5 1988.2C1419 2000.1 1415.7 2012.6 1412.1 2023.8C1408.4 2034.9 1404.4 2045.4 1399.5 2055.1C1394.6 2064.9 1388.7 2074.6 1382.8 2082.3C1376.9 2090 1369.9 2096.4 1364 2101.1C1358.1 2105.8 1351.8 2108.6 1347.2 2110.5C1342.7 2112.4 1340.6 2112.8 1336.8 2112.6C1333 2112.4 1328.4 2111.7 1324.3 2109.5C1320.1 2107.2 1315 2102.5 1311.7 2099C1308.4 2095.5 1305.9 2091.7 1304.4 2088.6C1302.9 2085.4 1303.2 2081.6 1302.9 2080.2"/>
<path class="l" stroke-dasharray="17.2 6.8" stroke-dashoffset="5.500" d="M933 1800.100H1275.700"/>
<path class="l" stroke-dasharray="17.2 6.8" stroke-dashoffset="9.200" d="M1274.900 1657.400V1801.200"/>
<path class="l" stroke-dasharray="17.2 6.8" stroke-dashoffset="5.500" d="M933 2011.200H1275.700"/>
<path class="l" stroke-dasharray="21.8 8.3 16 50" d="M1274.900 2056V2010"/>
<g class="k">
<path d="M1231 1721.300q0-2.200 2.200-2.200h2.600q2.400-4.200 6.400-4.200q4 0 6.400 4.200h2.200q2.200 0 2.200 2.200q0 2.300-2.200 2.300h-17.600q-2.200 0-2.200-2.300z"/>
<rect x="1236.300" y="1722" width="12.100" height="21.800" rx="2.400"/>
<rect x="1236.300" y="2068.700" width="12.100" height="21.800" rx="2.400"/>
<path d="M1231 2091q0-2.300 2.200-2.300h17.600q2.200 0 2.200 2.300q0 2.400-2.200 2.400h-2.200q-2.400 3.900-6.400 3.900q-4 0-6.400-3.900h-2.600q-2.200 0-2.200-2.400z"/>
</g>
<path class="l" d="M1211.2 1949.6C1200.1 1952 1162 1960.3 1144.7 1964C1127.5 1967.6 1117.6 1968.8 1107.8 1971.4C1097.9 1973.9 1091.5 1975.8 1085.6 1979.1C1079.8 1982.4 1075.9 1986.8 1072.7 1991.1C1069.5 1995.4 1067.8 2000.2 1066.2 2005C1064.7 2009.7 1064.4 2013.9 1063.4 2019.8C1062.5 2025.6 1061.6 2033.9 1060.7 2040.1C1059.8 2046.2 1059.1 2051.8 1057.9 2056.7C1056.7 2061.6 1055.1 2065.6 1053.3 2069.6C1051.4 2073.6 1049.4 2076.4 1046.8 2080.7C1044.2 2085 1040.4 2090.6 1037.6 2095.5C1034.8 2100.4 1032.2 2105.3 1030.2 2110.3C1028.2 2115.2 1026.6 2119.8 1025.6 2125.1C1024.6 2130.3 1024.3 2138.9 1024.1 2141.7"/>
<path class="l" d="M1211.2 1959.7C1200.1 1962 1160.4 1970.3 1144.7 1973.6C1129 1976.9 1124.4 1977.5 1117 1979.5C1109.6 1981.5 1104.7 1983.2 1100.4 1985.6C1096.1 1988 1093.6 1990.7 1091.2 1993.9C1088.7 1997.1 1087.2 2000.7 1085.6 2005C1084.1 2009.3 1083.2 2014.8 1081.9 2019.8C1080.7 2024.7 1079.6 2029.9 1078.2 2034.5C1076.8 2039.2 1075.5 2043.8 1073.6 2047.5C1071.8 2051.2 1070.1 2053.5 1067.1 2056.7C1064.2 2059.9 1060.4 2063.3 1056.1 2066.9C1051.7 2070.4 1045.9 2074.1 1041.3 2077.9C1036.7 2081.8 1032.4 2085.5 1028.4 2090C1024.3 2094.4 1020.2 2099.8 1017.3 2104.7C1014.3 2109.7 1012.4 2114.9 1010.8 2119.5C1009.2 2124.1 1008.3 2128.7 1007.7 2132.4C1007 2136.1 1006.9 2140.1 1006.7 2141.7"/>
<path class="l" d="M1211.2 1971.7C1200.1 1973.4 1159.5 1979.4 1144.7 1981.9C1130 1984.3 1128.4 1984.7 1122.6 1986.5C1116.7 1988.4 1113.2 1990.2 1109.6 1993C1106.1 1995.7 1103.6 1999.3 1101.3 2003.1C1099 2007 1097.3 2011.4 1095.8 2016.1C1094.2 2020.7 1093.3 2025.3 1092.1 2030.8C1090.9 2036.4 1089.9 2043.5 1088.4 2049.3C1086.8 2055.2 1085.2 2060.7 1082.8 2065.9C1080.5 2071.2 1078.1 2075.8 1074.5 2080.7C1071 2085.6 1065.6 2090.6 1061.6 2095.5C1057.6 2100.4 1053.3 2105.7 1050.5 2110.3C1047.7 2114.9 1046.3 2118 1045 2123.2C1043.7 2128.4 1043 2138.6 1042.6 2141.7"/>
<rect class="l" x="994.400" y="2122.900" width="66" height="81.300"/>
<path class="l" stroke-width="2.2" d="M1000.200 2142.500H1047.800V2180.700H1000.200ZM1015.100 2142.500V2180.700M1033.200 2142.500V2180.700M1047.800 2142.500l6 6v38.200H1004.900l-4.700-6M1047.800 2180.700l6 6"/>
<g class="k">
<circle cx="1009.1" cy="2149.8" r="3.9"/>
<circle cx="1025.6" cy="2150.3" r="3.9"/>
<circle cx="1042.6" cy="2151.1" r="3.9"/>
<circle cx="1008" cy="2173.4" r="3.9"/>
<circle cx="1024.5" cy="2174.1" r="3.9"/>
<circle cx="1041.8" cy="2174.9" r="3.9"/>
</g>
<text class="serif" transform="translate(1014.300,2199) rotate(-90) scale(0.62,1)" font-size="15" style="fill:#000;stroke:#000;stroke-width:0.9">L</text>
<text class="serif" transform="translate(1049.900,2199.400) rotate(-90) scale(0.66,1)" font-size="15" style="fill:#000;stroke:#000;stroke-width:0.9">N</text>
<path d="M1018.500 2195.900H1030M1024.800 2190.900V2200.800M1029 2194V2197.700" stroke="#000" stroke-width="1.8" fill="none"/>
</g>
<g id="hardware">
<polygon class="lw" points="572.3,1788.7 588.2,1774.1 592.3,1777.9 580.4,1788.7"/><polygon class="lw" points="572.3,1805 587.9,1819.9 591.6,1815.9 580.4,1805"/><polygon class="lw" stroke-linejoin="round" points="612.3,1788.7 572.3,1788.7 566.6,1789.2 563.5,1791.1 558.8,1791.6 556.1,1789.7 552,1789.5 550,1791.4 543.9,1791.6 541.5,1789.7 534.4,1789.7 532,1792 528.3,1792 526.6,1790.2 522.5,1790.5 519.1,1794.8 519.1,1800.2 524.6,1805.8 526.6,1804.3 531.7,1804.1 533.4,1805.6 538.1,1805.6 539.8,1803.1 547.9,1803.1 549.3,1805.6 555,1805.6 557.4,1802.7 563.5,1802.7 566.2,1804.6 572.3,1805 612.3,1805"/><polygon class="lw" points="522.2,1795.5 576.7,1795.5 576.7,1799.2 522.2,1799.2"/>
<polygon class="lw" points="572.3,2007.3 588.2,1992.7 592.3,1996.5 580.4,2007.3"/><polygon class="lw" points="572.3,2023.6 587.9,2038.5 591.6,2034.5 580.4,2023.6"/><polygon class="lw" stroke-linejoin="round" points="612.3,2007.3 572.3,2007.3 566.6,2007.8 563.5,2009.7 558.8,2010.2 556.1,2008.3 552,2008.1 550,2010 543.9,2010.2 541.5,2008.3 534.4,2008.3 532,2010.6 528.3,2010.6 526.6,2008.8 522.5,2009.1 519.1,2013.4 519.1,2018.8 524.6,2024.4 526.6,2022.9 531.7,2022.7 533.4,2024.2 538.1,2024.2 539.8,2021.7 547.9,2021.7 549.3,2024.2 555,2024.2 557.4,2021.3 563.5,2021.3 566.2,2023.2 572.3,2023.6 612.3,2023.6"/><polygon class="lw" points="522.2,2014.1 576.7,2014.1 576.7,2017.8 522.2,2017.8"/>
<path class="k" d="M641.8 1796.5L651.5 1792.3L710.5 1791.6L710.5 1801.9L651.5 1801.2Z"/><g class="k"><circle cx="654.2" cy="1792" r="1.5"/><circle cx="651.8" cy="1801.4" r="1.5"/><circle cx="659.2" cy="1792" r="1.5"/><circle cx="656.8" cy="1801.4" r="1.5"/><circle cx="664.3" cy="1792" r="1.5"/><circle cx="661.9" cy="1801.4" r="1.5"/><circle cx="669.3" cy="1792" r="1.5"/><circle cx="666.9" cy="1801.4" r="1.5"/><circle cx="674.4" cy="1792" r="1.5"/><circle cx="672" cy="1801.4" r="1.5"/><circle cx="679.4" cy="1792" r="1.5"/><circle cx="677" cy="1801.4" r="1.5"/><circle cx="684.5" cy="1792" r="1.5"/><circle cx="682.1" cy="1801.4" r="1.5"/><circle cx="689.5" cy="1792" r="1.5"/><circle cx="687.1" cy="1801.4" r="1.5"/><circle cx="694.6" cy="1792" r="1.5"/><circle cx="692.2" cy="1801.4" r="1.5"/><circle cx="699.6" cy="1792" r="1.5"/><circle cx="697.2" cy="1801.4" r="1.5"/><circle cx="704.7" cy="1792" r="1.5"/><circle cx="702.3" cy="1801.4" r="1.5"/><circle cx="709.7" cy="1792" r="1.5"/><circle cx="707.3" cy="1801.4" r="1.5"/></g><path d="M654.5 1794.2L652.7 1799M659.5 1794.2L657.8 1799M664.6 1794.2L662.8 1799M669.6 1794.2L667.8 1799M674.7 1794.2L672.9 1799M679.7 1794.2L677.9 1799M684.8 1794.2L683 1799M689.8 1794.2L688 1799M694.9 1794.2L693.1 1799M699.9 1794.2L698.1 1799M705 1794.2L703.2 1799" stroke="#fff" stroke-width="1.25" fill="none"/><ellipse class="k" cx="714.9" cy="1796.8" rx="4.9" ry="9"/><path d="M711.2 1796.8h2.2M716.3 1790.5l1.2 4.5M716.3 1803.2l1.2-4.5" stroke="#fff" stroke-width="1.1" fill="none"/>
<path class="k" d="M641.8 2014.7L651.5 2010.5L710.5 2009.8L710.5 2020.1L651.5 2019.4Z"/><g class="k"><circle cx="654.2" cy="2010.2" r="1.5"/><circle cx="651.8" cy="2019.6" r="1.5"/><circle cx="659.2" cy="2010.2" r="1.5"/><circle cx="656.8" cy="2019.6" r="1.5"/><circle cx="664.3" cy="2010.2" r="1.5"/><circle cx="661.9" cy="2019.6" r="1.5"/><circle cx="669.3" cy="2010.2" r="1.5"/><circle cx="666.9" cy="2019.6" r="1.5"/><circle cx="674.4" cy="2010.2" r="1.5"/><circle cx="672" cy="2019.6" r="1.5"/><circle cx="679.4" cy="2010.2" r="1.5"/><circle cx="677" cy="2019.6" r="1.5"/><circle cx="684.5" cy="2010.2" r="1.5"/><circle cx="682.1" cy="2019.6" r="1.5"/><circle cx="689.5" cy="2010.2" r="1.5"/><circle cx="687.1" cy="2019.6" r="1.5"/><circle cx="694.6" cy="2010.2" r="1.5"/><circle cx="692.2" cy="2019.6" r="1.5"/><circle cx="699.6" cy="2010.2" r="1.5"/><circle cx="697.2" cy="2019.6" r="1.5"/><circle cx="704.7" cy="2010.2" r="1.5"/><circle cx="702.3" cy="2019.6" r="1.5"/><circle cx="709.7" cy="2010.2" r="1.5"/><circle cx="707.3" cy="2019.6" r="1.5"/></g><path d="M654.5 2012.4L652.7 2017.2M659.5 2012.4L657.8 2017.2M664.6 2012.4L662.8 2017.2M669.6 2012.4L667.8 2017.2M674.7 2012.4L672.9 2017.2M679.7 2012.4L677.9 2017.2M684.8 2012.4L683 2017.2M689.8 2012.4L688 2017.2M694.9 2012.4L693.1 2017.2M699.9 2012.4L698.1 2017.2M705 2012.4L703.2 2017.2" stroke="#fff" stroke-width="1.25" fill="none"/><ellipse class="k" cx="714.9" cy="2015" rx="4.9" ry="9"/><path d="M711.2 2015h2.2M716.3 2008.7l1.2 4.5M716.3 2021.4l1.2-4.5" stroke="#fff" stroke-width="1.1" fill="none"/>
<path d="M633 1772V2039" stroke="#a8a8a8" stroke-width="2.4" fill="none"/>
<path class="l" stroke-width="2.1" d="M670 1761.400H638.600q-7.500 0-7.500 7.500V2042q0 7.500 7.500 7.500H670v-4.200H639.400q-4.500 0-4.500-4.500V1770.100q0-4.500 4.500-4.500H670z"/>
<path d="M650.800 1761.400v4.200M655.800 1761.400v4.200M660.300 1761.400v4.200M650.800 2045.300v4.200M655.800 2045.300v4.200M660.300 2045.300v4.200" stroke="#000" stroke-width="1.5" fill="none"/>
<path d="M631.100 1777.400h3.800M631.100 1813h3.800M631.100 1893h3.800M631.100 1920h3.800M631.100 1998h3.800M631.100 2033.500h3.800" stroke="#000" stroke-width="1.4"/>
<rect x="631.600" y="1904.800" width="2.800" height="2.400" fill="#e30613"/>
<line class="l" x1="733.7" y1="1800.1" x2="835" y2="1800.1"/><g class="k"><polygon points="881.8,1800.1 829.2,1808.8 829.2,1791.4"/></g><path class="l" d="M802.5 1752.4C801.4 1751.6 798.3 1748.5 796 1747.3C793.8 1746.1 791.4 1745 788.8 1745.2C786.3 1745.4 783.5 1746.4 780.8 1748.4C778.2 1750.4 775.2 1753.3 772.8 1757.2C770.4 1761.1 768.2 1766.8 766.4 1771.6C764.7 1776.4 763.2 1781.2 762.4 1786C761.6 1790.8 761.5 1795.4 761.6 1800.4C761.7 1805.5 762 1810.9 762.9 1816.5C763.8 1822.1 765.3 1828.7 767.2 1834.1C769.2 1839.4 771.9 1844.6 774.4 1848.5C777 1852.3 779.8 1855.4 782.4 1857.3C785.1 1859.2 787.8 1859.9 790.4 1860C793.1 1860.1 796 1859.2 798.5 1858.1C800.9 1857 803.1 1854.8 804.9 1853.3C806.6 1851.7 808.3 1849.5 809 1848.8"/><g class="k"><polygon points="830.5,1813.3 812.1,1853.6 800.2,1845.6"/></g>
<line class="l" x1="733.7" y1="2011.2" x2="835" y2="2011.2"/><g class="k"><polygon points="881.8,2011.2 829.2,2019.9 829.2,2002.5"/></g><path class="l" d="M802.5 1963.5C801.4 1962.7 798.3 1959.6 796 1958.4C793.8 1957.2 791.4 1956.1 788.8 1956.3C786.3 1956.5 783.5 1957.5 780.8 1959.5C778.2 1961.5 775.2 1964.4 772.8 1968.3C770.4 1972.2 768.2 1977.9 766.4 1982.7C764.7 1987.5 763.2 1992.3 762.4 1997.1C761.6 2001.9 761.5 2006.5 761.6 2011.5C761.7 2016.6 762 2022 762.9 2027.6C763.8 2033.2 765.3 2039.8 767.2 2045.2C769.2 2050.5 771.9 2055.7 774.4 2059.6C777 2063.4 779.8 2066.5 782.4 2068.4C785.1 2070.3 787.8 2071 790.4 2071.1C793.1 2071.2 796 2070.3 798.5 2069.2C800.9 2068.1 803.1 2065.9 804.9 2064.4C806.6 2062.8 808.3 2060.6 809 2059.9"/><g class="k"><polygon points="830.5,2024.4 812.1,2064.7 800.2,2056.7"/></g>
<rect class="lw" stroke-width="2.8" x="891.400" y="1779" width="11.600" height="42.400" rx="3"/><path class="l" d="M891.2 1790h12M891.2 1812h12" /><path d="M894.2 1790.5q-1.200 10.500 0 21M900.200 1790.5q1.200 10.500 0 21" stroke="#000" stroke-width="1.3" fill="none"/><path class="k" d="M932.8 1776.4V1823.7H928L926.2 1821.7L928 1819.8L926.2 1817.8L928 1815.8L926.2 1813.8L928 1811.9L926.2 1809.9L928 1807.9L926.2 1806L928 1804L926.2 1802L928 1800.1L926.2 1798.1L928 1796.1L926.2 1794.1L928 1792.2L926.2 1790.2L928 1788.2L926.2 1786.3L928 1784.3L926.2 1782.3L928 1780.3L926.2 1778.4L928 1776.4Z"/>
<rect class="lw" stroke-width="2.8" x="891.400" y="1990.1" width="11.600" height="42.400" rx="3"/><path class="l" d="M891.2 2001.1h12M891.2 2023.1h12" /><path d="M894.2 2001.6q-1.200 10.500 0 21M900.200 2001.6q1.200 10.500 0 21" stroke="#000" stroke-width="1.3" fill="none"/><path class="k" d="M932.8 1987.5V2034.8H928L926.2 2032.8L928 2030.9L926.2 2028.9L928 2026.9L926.2 2024.9L928 2023L926.2 2021L928 2019L926.2 2017.1L928 2015.1L926.2 2013.1L928 2011.2L926.2 2009.2L928 2007.2L926.2 2005.2L928 2003.3L926.2 2001.3L928 1999.3L926.2 1997.4L928 1995.4L926.2 1993.4L928 1991.4L926.2 1989.5L928 1987.5Z"/>
</g>
<g id="leaders">
<path class="l" d="M603.3 2450V2080M888.5 2450V2110M1015.2 2450V2240M1126.9 2450V2204.5L1211 2120.600"/>
<g class="k"><polygon points="603.3,2041 611.3,2082.6 595.3,2082.6"/><polygon points="888.5,2073 896.5,2114.6 880.5,2114.6"/><polygon points="1015.2,2201.5 1023.2,2243.1 1007.2,2243.1"/><polygon points="1236.6,2094.8 1213.1,2129.3 1202.1,2118.3"/></g>
<text x="601.6" y="2523.9" font-size="64" text-anchor="middle" fill="#333">2</text>
<text x="888.5" y="2523.9" font-size="64" text-anchor="middle" fill="#333">1</text>
<text x="1013.5" y="2523.9" font-size="64" text-anchor="middle" fill="#333">3</text>
<text x="1125.5" y="2523.9" font-size="64" text-anchor="middle" fill="#333">4</text>
</g>
<g id="callout">
<path class="l" d="M972.2 1501.900V1138.800A35 35 0 0 0 937.200 1103.800H676.900A35 35 0 0 0 641.900 1138.800V1625.500A35 35 0 0 0 676.900 1660.500H937.200A35 35 0 0 0 972.2 1625.500V1611.500L1098.500 1957.700L972.2 1501.900"/>
<path class="l" d="M818 1112.3C816.8 1115.7 813.3 1125.7 810.6 1132.5C807.9 1139.3 804.7 1146.5 801.8 1153.2C798.8 1159.9 795.4 1166.7 792.9 1172.9C790.4 1179.1 788.6 1184.7 787 1190.6C785.4 1196.6 784.5 1202 783.5 1208.4C782.6 1214.8 781.5 1225.6 781.1 1229.1"/>
<path class="l" d="M835.3 1121.2C834 1124.5 830.5 1134.2 827.4 1141.4C824.3 1148.5 819.7 1157 816.6 1164C813.4 1171.1 810.8 1177.2 808.7 1183.7C806.5 1190.3 805 1196.9 803.7 1203.4C802.5 1210 801.9 1217.9 801.3 1223.2C800.7 1228.4 800.5 1233 800.3 1235"/>
<path class="l" d="M781.1 1229.1C781.7 1228.7 783.4 1227.4 785 1227.1C786.7 1226.8 789 1226.6 790.9 1227.1C792.9 1227.6 795.3 1228.7 796.8 1230C798.4 1231.4 799.7 1234.2 800.3 1235"/>
<path class="l" d="M781.1 1229.1C781.6 1229.7 782.7 1231.9 784 1233C785.4 1234.1 788.1 1235.1 789 1235.5"/>
<path class="l" d="M800.3 1235C799.9 1234.8 798.7 1234.1 797.8 1234C796.9 1233.9 795.4 1234.4 794.9 1234.5"/>
<path d="M789 1234.5C787.3 1236.2 782.7 1240.3 779.1 1244.8C775.5 1249.3 770.6 1256.2 767.3 1261.6C764 1267 761.6 1271.8 759.4 1277.3C757.2 1282.8 754.9 1291.7 754 1294.6" fill="none" stroke="#000" stroke-width="5.4"/>
<path d="M789 1234.5C787.3 1236.2 782.7 1240.3 779.1 1244.8C775.5 1249.3 770.6 1256.2 767.3 1261.6C764 1267 761.6 1271.8 759.4 1277.3C757.2 1282.8 754.9 1291.7 754 1294.6" fill="none" stroke="#fff" stroke-width="1.6"/>
<path d="M794.4 1234.5C796.1 1236.2 801.4 1240.6 804.7 1244.8C808.1 1249 812 1254.5 814.6 1259.6C817.2 1264.7 819.1 1270 820.5 1275.4C821.9 1280.8 822.5 1289.3 823 1292.1" fill="none" stroke="#000" stroke-width="5.4"/>
<path d="M794.4 1234.5C796.1 1236.2 801.4 1240.6 804.7 1244.8C808.1 1249 812 1254.5 814.6 1259.6C817.2 1264.7 819.1 1270 820.5 1275.4C821.9 1280.8 822.5 1289.3 823 1292.1" fill="none" stroke="#fff" stroke-width="1.6"/>
<path d="M791.1 1232.5C790.8 1235.1 789.9 1242.8 789 1247.8C788 1252.8 786.3 1257.8 785.5 1262.6C784.7 1267.3 783.7 1271.4 784 1276.4C784.4 1281.3 786.9 1289.5 787.5 1292.1" fill="none" stroke="#000" stroke-width="5.4"/>
<path d="M791.1 1232.5C790.8 1235.1 789.9 1242.8 789 1247.8C788 1252.8 786.3 1257.8 785.5 1262.6C784.7 1267.3 783.7 1271.4 784 1276.4C784.4 1281.3 786.9 1289.5 787.5 1292.1" fill="none" stroke="#fff" stroke-width="1.6"/>
<line x1="755.7" y1="1287.7" x2="753.5" y2="1296.1" stroke="#000" stroke-width="4.6"/>
<line x1="786.2" y1="1286.2" x2="788" y2="1292.6" stroke="#000" stroke-width="4.6"/>
<line x1="822" y1="1285.2" x2="823.4" y2="1292.6" stroke="#000" stroke-width="4.6"/>
<g transform="translate(690,1290) scale(0.13547)" fill="none" stroke="#000" stroke-width="17" stroke-linejoin="miter">
<polygon points="60,92 1555,92 1578,1800 72,1800" fill="#fff"/>
<circle cx="733" cy="293" r="88" stroke-width="19"/>
<path d="M665 295H800M685 262H780M707 232H758M733 295V368" stroke-width="14"/>
<path d="M1150 620H1262L1292 1618L425 1645L418 1525"/>
<polygon points="325,550 530,548 555,1335 345,1352" fill="#fff"/>
<polygon points="612,545 820,540 850,1320 630,1340" fill="#fff"/>
<polygon points="900,535 1105,525 1130,1310 920,1328" fill="#fff"/>
<path d="M530 548L612 545M820 540L900 535"/>
<polygon points="1105,525 1190,718 1212,1500 1130,1310" fill="#fff"/>
<path d="M345 1352L420 1525H505M555 1335L630 1505V1528H595"/>
<path d="M630 1340L705 1520H745M850 1320L925 1495V1520H890"/>
<path d="M920 1328L995 1505H1050M1130 1310L1212 1500H1150"/>
<path d="M505 1530A95 95 0 1 1 580 1405M570 1470q25 5 30 25"/>
<path d="M745 1520A92 92 0 0 1 760 1345M810 1345A92 92 0 0 1 860 1400M855 1465q22 5 28 25"/>
<path d="M1050 1500A92 92 0 1 1 1150 1395M1135 1462q22 5 28 25"/>
<g transform="translate(405,530)"><path d="M-80 20L-42 172Q35 205 115 137L80 -20" fill="#fff"/><ellipse cx="0" cy="0" rx="82" ry="27" transform="rotate(-14)" fill="#fff"/><path d="M-55 10L52 -16M-8 -22L10 22" stroke-width="10"/><ellipse cx="0" cy="0" rx="60" ry="16" transform="rotate(-14)" stroke-width="9"/></g>
<g transform="translate(690,520)"><path d="M-80 20L-42 172Q35 205 115 137L80 -20" fill="#fff"/><ellipse cx="0" cy="0" rx="82" ry="27" transform="rotate(-14)" fill="#fff"/><path d="M-55 10L52 -16M-8 -22L10 22" stroke-width="10"/><ellipse cx="0" cy="0" rx="60" ry="16" transform="rotate(-14)" stroke-width="9"/></g>
<g transform="translate(975,510)"><path d="M-80 20L-42 172Q35 205 115 137L80 -20" fill="#fff"/><ellipse cx="0" cy="0" rx="82" ry="27" transform="rotate(-14)" fill="#fff"/><path d="M-55 10L52 -16M-8 -22L10 22" stroke-width="10"/><ellipse cx="0" cy="0" rx="60" ry="16" transform="rotate(-14)" stroke-width="9"/></g>
<g transform="translate(425,1050)"><path d="M-80 20L-42 172Q35 205 115 137L80 -20" fill="#fff"/><ellipse cx="0" cy="0" rx="82" ry="27" transform="rotate(-14)" fill="#fff"/><path d="M-55 10L52 -16M-8 -22L10 22" stroke-width="10"/><ellipse cx="0" cy="0" rx="60" ry="16" transform="rotate(-14)" stroke-width="9"/></g>
<g transform="translate(710,1040)"><path d="M-80 20L-42 172Q35 205 115 137L80 -20" fill="#fff"/><ellipse cx="0" cy="0" rx="82" ry="27" transform="rotate(-14)" fill="#fff"/><path d="M-55 10L52 -16M-8 -22L10 22" stroke-width="10"/><ellipse cx="0" cy="0" rx="60" ry="16" transform="rotate(-14)" stroke-width="9"/></g>
<g transform="translate(990,1030)"><path d="M-80 20L-42 172Q35 205 115 137L80 -20" fill="#fff"/><ellipse cx="0" cy="0" rx="82" ry="27" transform="rotate(-14)" fill="#fff"/><path d="M-55 10L52 -16M-8 -22L10 22" stroke-width="10"/><ellipse cx="0" cy="0" rx="60" ry="16" transform="rotate(-14)" stroke-width="9"/></g>
<path d="M515 1420Q590 1720 790 1830" stroke-width="24"/>
<path d="M1090 1440Q1010 1720 790 1830" stroke-width="24"/>
<path d="M760 1385H810L830 1640H768Z" fill="#fff" stroke-width="14"/>
<ellipse cx="797" cy="1712" rx="44" ry="66" fill="#fff" stroke-width="14"/>
<path d="M700 1815Q780 1870 860 1815" stroke-width="14"/>
</g>
<text x="739" y="1342.3" font-size="31" fill="#000" textLength="19" lengthAdjust="spacingAndGlyphs">N</text>
<text x="826" y="1342.3" font-size="31" fill="#000">L</text>
<path class="l" d="M786.4 1539.2C786.5 1546 787 1568.5 786.9 1579.7C786.8 1591 786.4 1597.3 785.8 1606.7C785.3 1616.2 784 1631.5 783.7 1636.5"/>
<path class="l" d="M805.3 1539.2C805.3 1546 805.5 1567.1 805.3 1579.7C805.1 1592.3 804.6 1604.3 803.9 1614.8C803.3 1625.4 801.7 1638.5 801.2 1643.2"/>
</g>
</g>
</svg>
</body></html>
